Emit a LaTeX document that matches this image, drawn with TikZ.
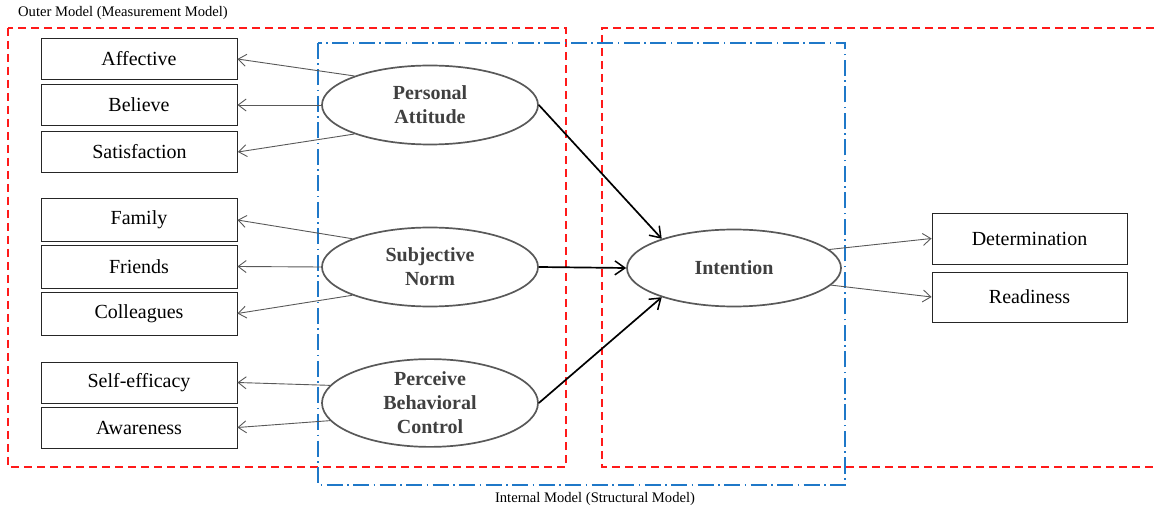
\documentclass[tikz,border=0pt]{standalone}
\usepackage{fontspec}
\setmainfont{Liberation Serif}
\usetikzlibrary{arrows.meta,shapes.geometric}
\definecolor{framered}{HTML}{FF1A1A}
\definecolor{frameblue}{HTML}{1F78C8}
\definecolor{edgegray}{HTML}{595959}
\definecolor{textgray}{HTML}{404040}
\begin{document}
\begin{tikzpicture}[x=1pt,y=-1pt,
  indicator/.style={draw=black!85,line width=0.9pt,rectangle,minimum width=196pt,minimum height=41pt,
    inner sep=0pt,font=\fontsize{20}{24}\selectfont},
  latent/.style={draw=edgegray,line width=1.7pt,ellipse,minimum width=216pt,minimum height=79pt,
    inner sep=0pt,align=center,text=textgray,font=\fontsize{20}{24}\selectfont\bfseries},
  loading/.style={draw=edgegray,line width=0.9pt,-{Straight Barb[length=8pt,width=12pt,line width=0.9pt]}},
  path/.style={draw=black,line width=1.7pt,-{Straight Barb[length=10pt,width=14pt,line width=1.5pt]}},
  redframe/.style={draw=framered,line width=1.8pt,dash pattern=on 8pt off 5pt},
  blueframe/.style={draw=frameblue,line width=1.8pt,dash pattern=on 16pt off 4.5pt on 1.5pt off 4.5pt},
  caption/.style={font=\fontsize{14.6}{17}\selectfont,inner sep=0pt}
]
\useasboundingbox (0,0) rectangle (1154,510);

% measurement and structural frames
\draw[redframe] (8,28) rectangle (566,467);
\draw[redframe] (1154,28) -- (602,28) -- (602,467) -- (1154,467);
\draw[blueframe] (318,43) rectangle (845,485);

\node[caption,anchor=west] (outerlbl) at (18,13) {Outer Model (Measurement Model)};
\node[caption] (innerlbl) at (595,499) {Internal Model (Structural Model)};

% indicators
\node[indicator] (aff) at (139,59) {Affective};
\node[indicator] (bel) at (139,105) {Believe};
\node[indicator] (sat) at (139.5,152) {Satisfaction};
\node[indicator,minimum height=43pt] (fam) at (139,220) {Family};
\node[indicator,minimum height=43pt] (fri) at (139,266.5) {Friends};
\node[indicator,minimum height=43pt] (col) at (139,313.5) {Colleagues};
\node[indicator] (self) at (139,382.5) {Self-efficacy};
\node[indicator] (awa) at (139,427.5) {Awareness};
\node[indicator,minimum width=195pt,minimum height=51pt] (det) at (1029.5,238.5) {Determination};
\node[indicator,minimum width=195pt,minimum height=50pt] (rea) at (1029.5,297) {Readiness};

% latent constructs
\node[latent] (pa) at (430,105) {Personal\\Attitude};
\node[latent] (sn) at (430,267) {Subjective\\Norm};
\node[latent] (pbc) at (430,403) {Perceive\\Behavioral\\Control};
\node[latent,minimum width=214pt,minimum height=77pt] (int) at (734,268) {Intention};

% outer loadings
\draw[loading] (pa.159) -- (aff.east);
\draw[loading] (pa.west) -- (bel.east);
\draw[loading] (pa.201) -- (sat.east);
\draw[loading] (sn.160) -- (fam.east);
\draw[loading] (sn.west) -- (fri.east);
\draw[loading] (sn.200) -- (col.east);
\draw[loading] (pbc.170) -- (self.east);
\draw[loading] (pbc.190) -- (awa.east);
\draw[loading] (int.11) -- (det.west);
\draw[loading] (int.-10) -- (rea.west);

% structural paths
\draw[path] (pa.east) -- (int.158);
\draw[path] (sn.east) -- (int.west);
\draw[path] (pbc.east) -- (int.202);
\end{tikzpicture}
\end{document}
